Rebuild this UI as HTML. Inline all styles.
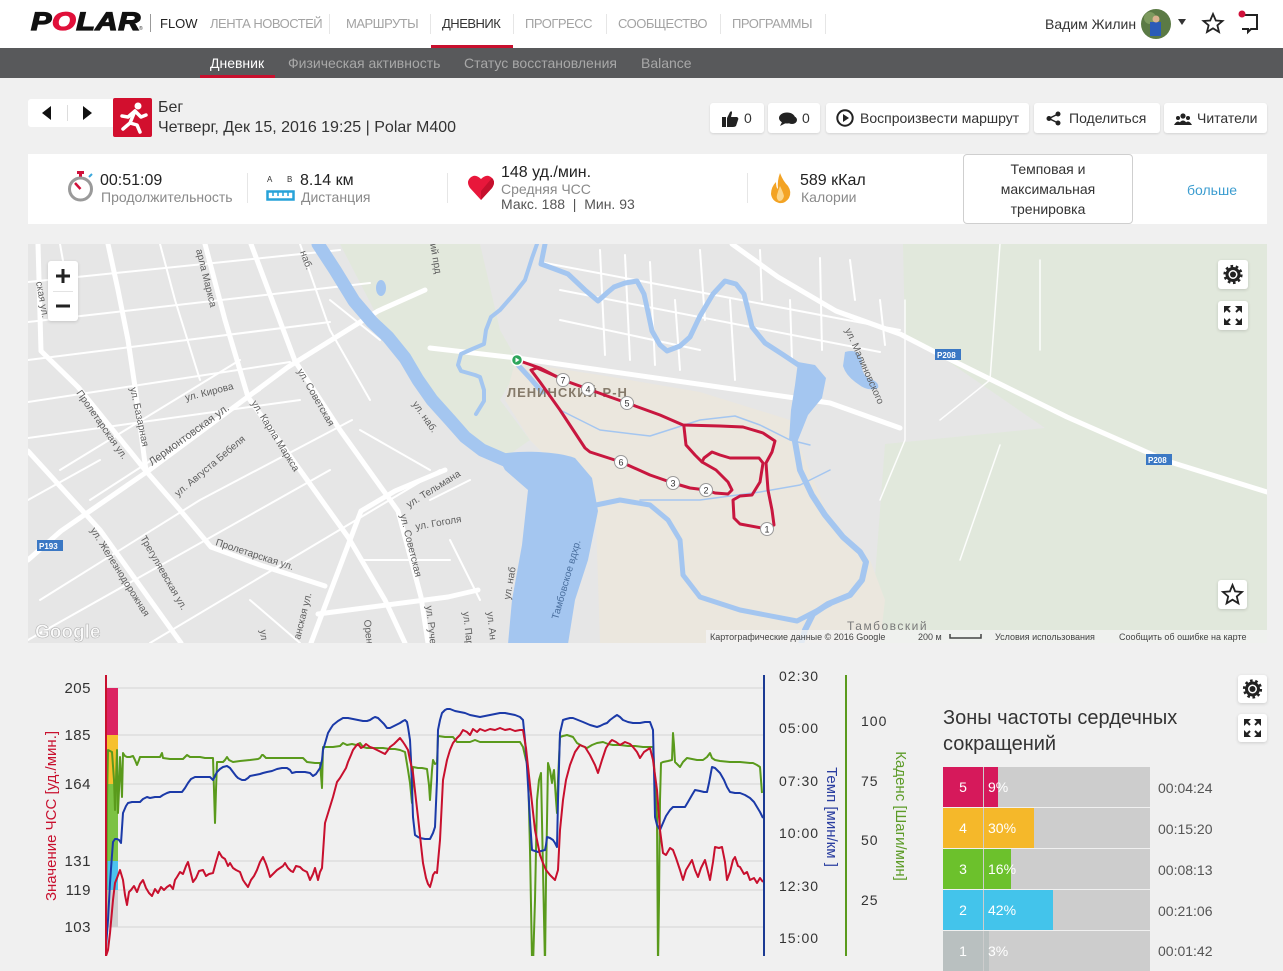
<!DOCTYPE html>
<html><head><meta charset="utf-8">
<style>
*{margin:0;padding:0;box-sizing:border-box}
body{width:1283px;height:956px;overflow:hidden;background:#f0f0f0;font-family:"Liberation Sans",Arial,sans-serif;position:relative;color:#333}
.a{position:absolute;white-space:nowrap;line-height:1}
.nav{font-size:13px;letter-spacing:-0.5px;color:#a3a3a3;top:17px}
.sep{position:absolute;width:1px;background:#e6e6e6}
.sub{font-size:14px;color:#a8a8a8;top:56px}
.btn{position:absolute;top:103px;height:30px;background:#fff;border-radius:3px;box-shadow:0 1px 2px rgba(0,0,0,.12)}
.bt{position:absolute;top:8px;font-size:14px;line-height:1;color:#333;white-space:nowrap}
.big{font-size:16px;color:#222}
.small{font-size:14px;color:#8a8a8a}
.zrow{position:absolute;left:943px;width:207px;height:40px;background:#cdcdcd}
.zl{position:absolute;left:0;top:0;width:40px;height:40px;color:#fff;font-size:14px;text-align:center;line-height:40px}
.zf{position:absolute;left:41px;top:0;height:40px}
.zp{position:absolute;left:45px;top:0;line-height:40px;font-size:14px;color:#fff}
.zt{position:absolute;left:1158px;font-size:14px;color:#555;line-height:1}
.ibox{position:absolute;background:#fff;border-radius:3px;box-shadow:0 1px 3px rgba(0,0,0,.15)}
</style></head><body>

<!-- top nav -->
<div class="a" style="left:0;top:0;width:1283px;height:48px;background:#fff"></div>
<div class="a" style="left:31px;top:10px;font-size:25px;font-weight:bold;font-style:italic;letter-spacing:0.5px;color:#111;-webkit-text-stroke:1.3px #111;transform:scaleX(1.22);transform-origin:0 0">P<span style="color:#e0103a;-webkit-text-stroke:1.3px #e0103a">O</span>LAR</div>
<div class="a" style="left:139px;top:27px;font-size:5px;color:#333">®</div>
<div class="sep" style="left:150px;top:14px;height:18px;background:#999"></div>
<div class="a" style="left:160px;top:17px;font-size:13px;color:#222">FLOW</div>
<div class="a nav" style="left:210px">ЛЕНТА НОВОСТЕЙ</div>
<div class="sep" style="left:329px;top:14px;height:20px"></div>
<div class="a nav" style="left:346px">МАРШРУТЫ</div>
<div class="sep" style="left:430px;top:14px;height:20px"></div>
<div class="a nav" style="left:442px;color:#333">ДНЕВНИК</div>
<div class="sep" style="left:513px;top:14px;height:20px"></div>
<div class="a nav" style="left:525px">ПРОГРЕСС</div>
<div class="sep" style="left:606px;top:14px;height:20px"></div>
<div class="a nav" style="left:618px">СООБЩЕСТВО</div>
<div class="sep" style="left:720px;top:14px;height:20px"></div>
<div class="a nav" style="left:732px">ПРОГРАММЫ</div>
<div class="sep" style="left:825px;top:14px;height:20px"></div>
<div class="a" style="left:431px;top:45px;width:82px;height:3px;background:#c8102e"></div>

<div class="a" style="left:1045px;top:17px;font-size:14px;color:#333">Вадим Жилин</div>
<svg class="a" style="left:1140px;top:8px" width="120" height="32" viewBox="1140 8 120 32">
  <circle cx="1156" cy="24" r="15" fill="#5b7a45"/>
  <circle cx="1150" cy="18" r="6" fill="#7d9a5e"/>
  <rect x="1150" y="22" width="11" height="14" fill="#2a5bb8"/>
  <circle cx="1156" cy="19" r="3.5" fill="#d9b28f"/>
  <polygon points="1178,19 1186,19 1182,25" fill="#333"/>
  <polygon points="1213,14 1215.8,20.5 1222.5,21 1217.4,25.3 1219,32 1213,28.3 1207,32 1208.6,25.3 1203.5,21 1210.2,20.5" fill="none" stroke="#222" stroke-width="1.8"/>
  <path d="M1242 15 H1257 V29 H1251 L1248 32 V29 H1242" fill="none" stroke="#222" stroke-width="2"/>
  <circle cx="1242" cy="14" r="3.5" fill="#d0103a"/>
</svg>

<!-- sub nav -->
<div class="a" style="left:0;top:48px;width:1283px;height:30px;background:#58595b"></div>
<div class="a sub" style="left:210px;color:#fff">Дневник</div>
<div class="a" style="left:200px;top:75px;width:75px;height:3px;background:#c8102e"></div>
<div class="a sub" style="left:288px">Физическая активность</div>
<div class="a sub" style="left:464px">Статус восстановления</div>
<div class="a sub" style="left:641px">Balance</div>

<!-- header row -->
<div class="a" style="left:28px;top:99px;width:91px;height:28px;background:#fff;border-radius:3px"></div>
<svg class="a" style="left:28px;top:99px" width="91" height="28">
  <polygon points="23,7 23,21 14,14" fill="#111"/>
  <polygon points="55,7 55,21 64,14" fill="#111"/>
  <line x1="39.5" y1="6" x2="39.5" y2="22" stroke="#ddd"/>
</svg>
<div class="a" style="left:113px;top:98px;width:39px;height:39px;background:#d20f2e;border-radius:2px"></div>
<svg class="a" style="left:113px;top:98px" width="39" height="39">
  <circle cx="25" cy="8" r="3.5" fill="#fff"/>
  <path d="M22 13 L15 19 M22 13 L17 25 L10 31 M17 25 L24 27 L27 34 M22 13 L28 19 L33 17 M15 19 L9 18" stroke="#fff" stroke-width="3.5" fill="none" stroke-linecap="round" stroke-linejoin="round"/>
</svg>
<div class="a" style="left:158px;top:100px;font-size:16px;color:#333">Бег</div>
<div class="a" style="left:158px;top:120px;font-size:16px;color:#333">Четверг, Дек 15, 2016 19:25 | Polar M400</div>

<div class="btn" style="left:710px;width:54px">
  <svg class="a" style="left:11px;top:7px" width="18" height="17"><path d="M1 7 H5 V17 H1Z M6 8 L9 2 Q11 0 11 3 L10 7 H16 Q18 8 17 10 L15 16 Q14 17 12 17 H6Z" fill="#222"/></svg>
  <div class="bt" style="left:34px">0</div></div>
<div class="btn" style="left:768px;width:52px">
  <svg class="a" style="left:10px;top:8px" width="20" height="15"><ellipse cx="9" cy="7" rx="8" ry="5.5" fill="#222"/><path d="M4 11 L2 15 L8 12Z" fill="#222"/><ellipse cx="14" cy="9" rx="5" ry="4" fill="#222"/></svg>
  <div class="bt" style="left:34px">0</div></div>
<div class="btn" style="left:826px;width:203px">
  <svg class="a" style="left:10px;top:6px" width="18" height="18"><circle cx="9" cy="9" r="7.7" fill="none" stroke="#222" stroke-width="2"/><polygon points="7,5 7,13 13,9" fill="#222"/></svg>
  <div class="bt" style="left:34px">Воспроизвести маршрут</div></div>
<div class="btn" style="left:1034px;width:126px">
  <svg class="a" style="left:12px;top:8px" width="16" height="15"><circle cx="12" cy="3" r="2.5" fill="#222"/><circle cx="3" cy="7.5" r="2.5" fill="#222"/><circle cx="12" cy="12" r="2.5" fill="#222"/><path d="M12 3 L3 7.5 L12 12" stroke="#222" stroke-width="1.5" fill="none"/></svg>
  <div class="bt" style="left:35px">Поделиться</div></div>
<div class="btn" style="left:1164px;width:103px">
  <svg class="a" style="left:10px;top:10px" width="18" height="12"><circle cx="9" cy="3" r="2.6" fill="#222"/><circle cx="4" cy="5" r="2" fill="#222"/><circle cx="14" cy="5" r="2" fill="#222"/><path d="M4 12 Q9 3 14 12Z M0 12 Q4 5 8 12Z M10 12 Q14 5 18 12Z" fill="#222"/></svg>
  <div class="bt" style="left:33px">Читатели</div></div>

<!-- stats -->
<div class="a" style="left:28px;top:154px;width:1239px;height:70px;background:#fff"></div>
<svg class="a" style="left:60px;top:168px" width="40" height="38">
  <rect x="17" y="3" width="7" height="3" fill="#d0103a"/>
  <rect x="19" y="5" width="3" height="4" fill="#d0103a"/>
  <circle cx="20.5" cy="21" r="11" fill="#fff" stroke="#9a9a9a" stroke-width="3"/>
  <line x1="20.5" y1="21" x2="15" y2="15" stroke="#d0103a" stroke-width="2.5"/>
  <line x1="29" y1="9" x2="32" y2="6" stroke="#3aa7dc" stroke-width="2"/>
</svg>
<div class="a big" style="left:100px;top:172.5px">00:51:09</div>
<div class="a small" style="left:101px;top:189.5px">Продолжительность</div>
<div class="sep" style="left:247px;top:173px;height:30px"></div>
<div class="a" style="left:267px;top:176px;font-size:8px;color:#333">A</div>
<div class="a" style="left:287px;top:176px;font-size:8px;color:#333">B</div>
<svg class="a" style="left:266px;top:190px" width="30" height="12"><rect x="1.5" y="1.5" width="26" height="8" fill="none" stroke="#27a2d8" stroke-width="2.5"/><path d="M7 2V6 M12 2V6 M17 2V6 M22 2V6" stroke="#27a2d8" stroke-width="1.5"/></svg>
<div class="a big" style="left:300px;top:172.5px">8.14 км</div>
<div class="a small" style="left:301px;top:189.5px">Дистанция</div>
<div class="sep" style="left:447px;top:173px;height:30px"></div>
<svg class="a" style="left:467px;top:173px" width="28" height="28"><path d="M14 27 L3 15 Q-1 9 3 5 Q8 0 14 6 Q20 0 25 5 Q29 9 25 15Z" fill="#e8173b"/><path d="M14 27 L25 15 Q29 9 25 5 L14 18Z" fill="#c5102d"/></svg>
<div class="a big" style="left:501px;top:164.5px">148 уд./мин.</div>
<div class="a small" style="left:501px;top:181.5px">Средняя ЧСС</div>
<div class="a small" style="left:501px;top:196.5px;color:#555">Макс. 188 &nbsp;|&nbsp; Мин. 93</div>
<div class="sep" style="left:747px;top:173px;height:30px"></div>
<svg class="a" style="left:769px;top:172px" width="24" height="32"><path d="M11 1 Q14 9 19 14 Q23 20 20 26 Q16 32 10 31 Q3 29 2 22 Q2 15 7 10 Q7 16 9 17 Q8 9 11 1Z" fill="#f3a324"/><path d="M11 14 Q14 20 15 24 Q14 29 10 29 Q7 27 8 23 Q9 19 11 14Z" fill="#fbd58a"/></svg>
<div class="a big" style="left:800px;top:172.5px">589 кКал</div>
<div class="a small" style="left:801px;top:189.5px">Калории</div>
<div class="a" style="left:963px;top:154px;width:170px;height:70px;border:1px solid #cfcfcf;border-radius:4px;text-align:center;font-size:14px;line-height:20px;padding-top:4px;color:#333;white-space:normal">Темповая и<br>максимальная<br>тренировка</div>
<div class="a" style="left:1187px;top:182.5px;font-size:14px;color:#3c9dd0">больше</div>

<!-- map -->
<svg class="a" style="left:28px;top:244px" width="1239" height="399" viewBox="28 244 1239 399" font-family="Liberation Sans, Arial, sans-serif">
  <rect x="28" y="244" width="1239" height="399" fill="#e6e6e6"/>
  <polygon points="903,244 1267,244 1267,643 870,643 885,444 1045,428 933,351 905,339" fill="#e1e8dc"/>
  <polygon points="340,244 480,244 500,330 520,365 500,400 530,440 500,461 465,437 430,401 388,337" fill="#e2e8dc"/>
  <polygon points="515,362 600,375 700,392 790,420 805,460 830,520 870,560 885,600 880,643 600,643 596,520 560,470 530,440 505,400" fill="#ebe7de"/>
  <!-- city streets left -->
  <g stroke="#fff" fill="none" stroke-linecap="round" stroke-linejoin="round">
    <g stroke-width="2">
      <path d="M28 282 L340 250 M28 322 L370 283 M28 360 L330 322 M28 402 L290 362 M28 438 L300 400 M40 600 L200 500 L352 420 M28 640 L330 470 M150 643 L440 470 M60 470 L240 360 M90 500 L260 390 M28 500 L100 460"/>
      <path d="M160 244 L175 300 L200 380 M60 244 L70 300 M300 244 L330 330 L370 400 M360 430 L430 470 M250 600 L300 643 M330 300 L380 340 M360 560 L450 560 M430 500 L470 480 M450 540 L480 600"/>
      <path d="M540 262 L900 330 M560 290 L880 352 M600 250 L605 355 M625 255 L630 360 M650 262 L655 365 M675 300 L680 370 M700 250 L705 320 M730 300 L735 380 M760 250 L762 300 M790 300 L792 360 M820 258 L822 350 M850 260 L855 300 M880 300 L885 345 M560 320 L700 350"/>
    </g>
    <g stroke-width="5">
      <polyline points="108,244 118,290 128,340 135,387 146,471"/>
      <polyline points="38,244 41,351 78,387 146,471 180,510 211,547 260,565 325,586"/>
      <polyline points="205,244 225,320 248,397 300,470 348,537 385,600 405,643"/>
      <polyline points="251,244 295,361 340,430 398,511 421,597 428,643"/>
      <polyline points="28,560 61,531 148,471 288,367 378,311 425,290"/>
      <polyline points="28,451 100,530 181,643"/>
      <polyline points="311,643 361,511 395,491 445,470"/>
      <polyline points="318,614 448,597 478,590"/>
      <polyline points="732,244 778,277 836,311 900,334 933,351 1067,417 1167,461 1267,492"/>
      <polyline points="430,348 517,358 830,403 900,428"/>
    </g>
    <g stroke-width="1.5" opacity="0.9">
      <path d="M1000 244 L990 380 L940 420 M960 560 L1000 445 M905 300 L905 440 L880 500 M1040 260 L1040 350"/>
    </g>
  </g>
  <!-- water -->
  <g fill="none" stroke="#a4c6f0" stroke-linecap="round" stroke-linejoin="round">
    <polyline stroke-width="13" points="318,244 335,270 354,301 372,322 388,337 405,358 418,380 432,400 450,420 465,437 482,450 505,460"/>
    <polyline stroke-width="5" points="545,244 541,264 552,268 568,274 585,290 598,301 608,292 614,287 625,283 637,281 644,294 648,312 652,331 660,345 667,351 680,346 690,337 700,316 713,294 725,281 736,284 744,294 748,310 752,327 765,343 782,354 800,366"/>
    <polyline stroke-width="6" points="793,430 800,470 812,495 825,515 843,537 860,552 866,562 862,580 850,595 828,604 813,614 805,630 801,644"/>
    <polyline stroke-width="4" points="537,244 532,258 525,280 514,294 500,310 491,317 486,330 484,344 470,350 461,354 458,365 461,371 475,375 480,377 484,390 484,401 476,414"/>
    <polyline stroke-width="5" points="518,365 530,378 542,392"/>
    <polyline stroke-width="5" points="596,505 620,500 650,505 668,520 680,540 683,575 700,597 740,610 797,621 830,604"/>
    <polyline stroke-width="1.5" points="560,410 600,430 650,436 700,420 735,416 760,425 790,440 810,445"/>
    <polyline stroke-width="1.5" points="640,500 700,500 760,492 800,485 830,470"/>
  </g>
  <g fill="#a4c6f0">
    <path d="M497 455 C520 449 560 452 575 458 L592 478 L598 511 L588 560 L575 600 L568 644 L508 644 L512 600 L522 545 L528 490 L505 470 Z"/>
    <path d="M798 362 L815 365 L826 378 L822 398 L808 415 L798 440 L789 440 L791 410 L795 385Z"/>
    <path d="M845 352 Q858 348 862 360 Q860 372 868 378 Q880 382 878 388 Q868 392 858 384 Q846 376 843 366Z"/>
    <ellipse cx="381" cy="288" rx="5" ry="8"/>
  </g>
  <!-- badges -->
  <g font-size="8" font-weight="bold" fill="#fff">
    <rect x="935" y="349" width="26" height="11" fill="#3b78c4"/><text x="937" y="358">P208</text>
    <rect x="1146" y="454" width="26" height="11" fill="#3b78c4"/><text x="1148" y="463">P208</text>
    <rect x="37" y="540" width="26" height="11" fill="#3b78c4"/><text x="39" y="549">P193</text>
  </g>
  <!-- street labels -->
  <g font-size="10" fill="#5e5e5e">
    <text transform="translate(186,401) rotate(-14)">ул. Кирова</text>
    <text transform="translate(152,466) rotate(-36)" font-size="11">Лермонтовская ул.</text>
    <text transform="translate(251,403) rotate(58)">ул. Карла Маркса</text>
    <text transform="translate(297,371) rotate(60)">ул. Советская</text>
    <text transform="translate(76,393) rotate(55)">Пролетарская ул.</text>
    <text transform="translate(130,388) rotate(78)">ул. Базарная</text>
    <text transform="translate(178,497) rotate(-40)">ул. Августа Бебеля</text>
    <text transform="translate(215,545) rotate(18)">Пролетарская ул.</text>
    <text transform="translate(90,530) rotate(58)">ул. Железнодорожная</text>
    <text transform="translate(140,538) rotate(60)">Трегуляевская ул.</text>
    <text transform="translate(409,508) rotate(-32)">ул. Тельмана</text>
    <text transform="translate(416,530) rotate(-10)">ул. Гоголя</text>
    <text transform="translate(400,515) rotate(76)">ул. Советская</text>
    <text transform="translate(412,404) rotate(55)">ул. наб.</text>
    <text transform="translate(196,250) rotate(76)">арла Маркса</text>
    <text transform="translate(36,282) rotate(80)">ская ул.</text>
    <text transform="translate(300,252) rotate(70)">наб.</text>
    <text transform="translate(430,244) rotate(80)">ий прд</text>
    <text transform="translate(845,330) rotate(66)">ул. Малиновского</text>
    <text transform="translate(510,600) rotate(-80)">ул. наб</text>
    <text transform="translate(300,640) rotate(-76)">анская ул.</text>
    <text transform="translate(364,620) rotate(84)">Орен</text>
    <text transform="translate(426,606) rotate(84)">ул. Руче</text>
    <text transform="translate(463,612) rotate(84)">ул. Пар</text>
    <text transform="translate(487,612) rotate(84)">ул. Ан</text>
    <text transform="translate(260,630) rotate(84)">ул</text>
  </g>
  <text transform="translate(558,620) rotate(-74)" font-size="10" fill="#4a6f9e">Тамбовское вдхр.</text>
  <text x="507" y="397" font-size="13" font-weight="bold" letter-spacing="1" fill="#857a6a">ЛЕНИНСКИЙ Р-Н</text>
  <text x="847" y="630" font-size="12" letter-spacing="1.5" fill="#7a7a7a">Тамбовский</text>
  <!-- route -->
  <g fill="none" stroke="#c8173f" stroke-width="3" stroke-linejoin="round" stroke-linecap="round">
    <polyline points="517,360 540,368 563,380 588,389 610,397 627,403 660,415 683,425 720,426 743,427 763,433 775,441 772,452 766,463 768,490 772,510 774,525 767,529"/>
    <polyline points="767,529 740,524 734,518 733,500 740,496 752,495 760,482 763,463 759,458 730,458 720,455 712,452 704,458 702,462 716,470 728,482 732,490 728,494 715,493 706,490 690,488 673,483 650,475 621,462 590,452 585,448 560,410 540,382 531,370 537,368 560,378 563,380"/>
    <polyline points="684,427 686,445 695,455 702,462"/>
  </g>
  <g font-size="9" fill="#333" text-anchor="middle">
    <g fill="#fff" stroke="#9a9a9a" stroke-width="1">
      <circle cx="563" cy="380" r="6.5"/><circle cx="588" cy="389" r="6.5"/><circle cx="627" cy="403" r="6.5"/>
      <circle cx="621" cy="462" r="6.5"/><circle cx="673" cy="483" r="6.5"/><circle cx="706" cy="490" r="6.5"/><circle cx="767" cy="529" r="6.5"/>
    </g>
    <text x="563" y="383.5">7</text><text x="588" y="392.5">4</text><text x="627" y="406.5">5</text>
    <text x="621" y="465.5">6</text><text x="673" y="486.5">3</text><text x="706" y="493.5">2</text><text x="767" y="532.5">1</text>
  </g>
  <circle cx="517" cy="360" r="5.5" fill="#2ca55a" stroke="#fff" stroke-width="1.5"/>
  <polygon points="515.5,357.5 515.5,362.5 519.5,360" fill="#fff"/>
  <!-- google -->
  <text x="35" y="638" font-size="19" font-weight="bold" fill="#fafafa" stroke="#b5b5b5" stroke-width="0.6">Google</text>
  <rect x="706" y="630" width="561" height="13" fill="#f2f2f2" opacity="0.8"/>
  <g font-size="9" fill="#444">
    <text x="710" y="640">Картографические данные © 2016 Google</text>
    <text x="918" y="640">200 м</text>
    <text x="995" y="640">Условия использования</text>
    <text x="1119" y="640">Сообщить об ошибке на карте</text>
  </g>
  <path d="M950 634 V638 H981 V634" fill="none" stroke="#444" stroke-width="1.5"/>
</svg>
<!-- map controls -->
<div class="ibox" style="left:48px;top:261px;width:30px;height:60px"></div>
<div class="a" style="left:53px;top:291px;width:20px;height:1px;background:#e3e3e3"></div>
<svg class="a" style="left:48px;top:261px" width="30" height="60"><path d="M15 8 V22 M8 15 H22" stroke="#222" stroke-width="3"/><path d="M8 45 H22" stroke="#222" stroke-width="3"/></svg>

<div class="ibox" style="left:1218px;top:260px;width:30px;height:29px"></div>
<svg class="a" style="left:1218px;top:260px" width="30" height="29"><circle cx="15" cy="14.5" r="6" fill="none" stroke="#222" stroke-width="3"/><circle cx="15" cy="14.5" r="8.3" fill="none" stroke="#222" stroke-width="2.6" stroke-dasharray="2.6 2.6"/><circle cx="15" cy="14.5" r="3" fill="#222"/></svg>
<div class="ibox" style="left:1218px;top:301px;width:30px;height:29px"></div>
<svg class="a" style="left:1218px;top:301px" width="30" height="29"><g fill="#222"><polygon points="6,5 13,5 6,12"/><polygon points="24,5 17,5 24,12"/><polygon points="6,24 13,24 6,17"/><polygon points="24,24 17,24 24,17"/></g><path d="M7 6 L12 11 M23 6 L18 11 M7 23 L12 18 M23 23 L18 18" stroke="#222" stroke-width="2"/></svg>
<div class="ibox" style="left:1218px;top:580px;width:29px;height:29px"></div>
<svg class="a" style="left:1218px;top:580px" width="29" height="29"><polygon points="14.5,5 17.1,11.4 24,12 18.8,16.5 20.4,23.3 14.5,19.7 8.6,23.3 10.2,16.5 5,12 11.9,11.4" fill="none" stroke="#222" stroke-width="1.8"/></svg>

<!-- chart -->
<svg class="a" style="left:0;top:650px" width="940" height="306" viewBox="0 650 940 306" font-family="Liberation Sans, Arial, sans-serif">
  <g stroke="#d3d3d3" stroke-width="1">
    <line x1="106" y1="688" x2="763" y2="688"/><line x1="106" y1="735" x2="763" y2="735"/>
    <line x1="106" y1="784" x2="763" y2="784"/><line x1="106" y1="861" x2="763" y2="861"/>
    <line x1="106" y1="890" x2="763" y2="890"/><line x1="106" y1="927" x2="763" y2="927"/>
  </g>
  <rect x="106" y="688" width="12" height="47" fill="#dc2362"/>
  <rect x="106" y="735" width="12" height="49" fill="#f6c02e"/>
  <rect x="106" y="784" width="12" height="77" fill="#7cc243"/>
  <rect x="106" y="861" width="12" height="29" fill="#4cc3ee"/>
  <rect x="106" y="890" width="12" height="37" fill="#d0d0d0"/>
  <g font-size="15" fill="#333" text-anchor="end" letter-spacing="0.5">
    <text x="91" y="693">205</text><text x="91" y="740">185</text><text x="91" y="789">164</text>
    <text x="91" y="866">131</text><text x="91" y="895">119</text><text x="91" y="932">103</text><text x="91" y="967">90</text>
  </g>
  <g font-size="14" fill="#333" letter-spacing="1">
    <text x="779" y="681">02:30</text><text x="779" y="733">05:00</text><text x="779" y="786">07:30</text>
    <text x="779" y="838">10:00</text><text x="779" y="891">12:30</text><text x="779" y="943">15:00</text>
    <text x="861" y="726">100</text><text x="861" y="786">75</text><text x="861" y="845">50</text><text x="861" y="905">25</text><text x="861" y="966">0</text>
  </g>
  <text transform="translate(56,816) rotate(-90)" text-anchor="middle" font-size="15" fill="#c8102e">Значение ЧСС [уд./мин.]</text>
  <text transform="translate(827,817) rotate(90)" text-anchor="middle" font-size="15" fill="#2a3ea0">Темп [мин/км ]</text>
  <text transform="translate(896,816) rotate(90)" text-anchor="middle" font-size="15" fill="#5d9b28">Каденс [Шаги/мин]</text>
  <g fill="none" stroke-width="2" stroke-linejoin="round">
    <polyline stroke="#5a9a1c" points="106,937 107,800 108,750 110,751 112,752 114,780 115,810 116,780 117,750 118,813 119,790 120,757 121,775 122,797 123,753 125,756 127,757 130,757 133,756 135,760 137,765 139,760 140,757 150,757 160,757 162,753 163,758 170,759 173,759 178,759 183,759 185,757 187,755 190,757 195,757 200,757 205,758 210,758 213,758 214,790 215,823 216,790 217,762 220,762 223,762 225,760 227,757 229,760 233,762 240,761 250,760 258,759 260,758 262,755 263,755 266,758 270,758 280,758 290,758 300,758 303,758 307,762 315,763 320,763 321,775 322,788 323,747 328,747 333,747 340,746 343,743 347,745 352,744 356,745 360,743 363,747 367,748 375,748 383,748 390,749 395,749 400,750 405,752 408,770 410,783 412,803 413,767 418,768 422,768 427,769 429,785 430,800 432,770 433,760 435,764 437,763 438,736 445,737 453,737 457,742 465,742 470,742 475,740 480,742 487,742 495,742 505,742 512,742 520,742 523,747 526,760 528,767 530,850 532,960 533,966 535,900 537,800 539,780 541,773 543,870 545,966 546,880 548,763 550,770 552,783 553,775 554,770 556,800 557,813 558,780 560,737 563,736 567,735 570,736 573,737 575,740 577,743 582,746 587,748 592,745 597,743 603,742 608,744 613,745 620,745 628,746 635,746 643,747 650,747 653,747 655,780 657,817 658,966 659,900 660,800 661,763 663,762 668,761 672,760 673,733 674,745 675,762 678,765 680,767 683,762 687,758 692,759 697,760 703,760 707,757 710,753 712,758 715,760 720,761 730,762 740,762 750,763 753,763 757,765 760,767 762,793"/>
    <polyline stroke="#1b3aa8" points="106,947 108,920 110,883 112,855 113,842 115,839 117,839 119,840 121,843 123,813 126,806 128,803 132,802 136,802 140,802 143,799 147,797 150,798 155,797 160,797 163,795 167,793 170,792 175,792 182,792 185,788 188,783 191,779 195,777 200,777 205,777 210,777 213,780 215,776 217,772 220,769 223,767 227,766 230,768 233,772 236,776 238,778 242,780 245,780 248,778 250,776 255,775 260,774 263,773 267,772 272,771 277,769 282,768 287,768 290,770 292,773 296,772 300,772 305,772 310,773 313,776 316,774 320,768 322,760 323,750 326,740 328,733 331,728 333,725 338,721 343,718 348,718 353,719 358,720 363,721 367,721 370,720 373,718 375,717 378,718 380,720 384,724 387,728 390,728 392,727 396,725 400,723 403,721 405,720 407,722 408,727 410,740 411,760 413,817 415,835 418,837 420,838 425,839 430,839 433,833 435,827 437,780 438,730 440,720 442,713 445,710 447,709 450,709 455,711 460,712 465,713 470,715 475,716 480,717 485,716 490,715 495,714 500,713 505,713 510,714 515,715 520,717 523,720 525,740 527,767 530,820 532,850 535,851 538,852 541,851 545,850 546,845 547,837 550,838 553,840 555,843 557,847 558,800 560,733 563,720 566,719 570,718 573,718 578,720 583,722 590,725 597,727 600,726 604,724 607,723 610,720 614,717 617,715 620,717 623,720 628,722 633,723 640,723 645,722 650,722 653,730 654,770 655,817 657,825 660,830 663,823 666,816 670,810 673,807 678,807 685,807 688,802 692,795 695,790 700,791 704,792 707,792 709,783 712,767 715,768 720,773 724,780 727,787 730,792 735,793 740,793 745,795 750,798 754,802 757,807 760,812 763,818"/>
    <polyline stroke="#c8102e" points="106,956 108,950 110,933 113,900 115,883 117,878 120,870 123,880 125,895 127,905 129,892 131,890 134,886 137,892 140,884 143,880 146,888 149,893 152,896 155,889 158,893 161,887 164,890 167,887 170,885 173,889 175,880 177,877 180,872 183,874 186,866 188,862 190,870 193,882 196,878 199,871 203,870 206,876 209,874 213,873 216,862 219,852 222,857 225,859 228,866 230,863 233,868 236,870 240,872 243,880 245,883 248,887 251,880 254,876 257,870 260,862 263,857 266,864 268,870 270,877 273,874 277,870 280,868 283,866 285,863 288,868 291,871 293,872 296,866 300,867 303,870 307,872 310,880 313,874 315,868 318,880 320,872 322,868 325,823 329,810 333,797 337,782 340,778 343,773 346,768 348,762 351,755 353,750 356,746 358,744 361,748 363,747 366,744 370,747 373,748 377,750 381,752 385,754 388,750 390,747 394,744 397,741 400,738 403,742 405,745 408,750 410,760 413,773 416,800 418,817 421,845 423,863 426,878 428,884 430,887 432,880 433,875 435,872 437,873 440,840 443,780 447,760 450,750 453,743 457,738 460,735 463,730 467,732 470,735 473,729 477,732 480,729 485,731 490,729 495,730 500,728 505,730 510,729 515,731 520,730 523,730 526,748 530,785 535,830 540,855 543,863 546,870 550,875 555,880 558,870 560,830 563,800 566,780 570,765 575,752 580,745 585,747 590,755 595,765 598,773 602,760 606,748 610,742 612,740 616,742 620,745 625,742 630,744 633,747 637,752 640,758 644,752 647,750 650,748 653,760 657,790 660,830 663,853 666,855 670,848 673,850 676,858 680,870 683,880 686,870 689,865 692,860 695,870 698,877 701,868 705,860 708,872 710,880 713,862 715,847 719,848 722,847 725,862 727,880 730,872 733,860 735,857 738,866 740,867 744,874 747,872 750,880 754,878 757,883 760,878 763,882"/>
  </g>
  <line x1="106" y1="675" x2="106" y2="956" stroke="#c8102e" stroke-width="2"/>
  <line x1="764" y1="675" x2="764" y2="956" stroke="#1b3a93" stroke-width="2"/>
  <line x1="846" y1="675" x2="846" y2="956" stroke="#5a9a1c" stroke-width="2"/>
</svg>

<!-- zones -->
<div class="a" style="left:943px;top:705px;font-size:20px;line-height:26px;color:#333;white-space:normal;width:260px">Зоны частоты сердечных<br>сокращений</div>
<div class="zrow" style="top:767px"><div class="zl" style="background:#d6195b">5</div><div class="zf" style="width:14px;background:#d6195b"></div><div class="zp">9%</div></div>
<div class="zrow" style="top:808px"><div class="zl" style="background:#f5b82a">4</div><div class="zf" style="width:50px;background:#f5b82a"></div><div class="zp">30%</div></div>
<div class="zrow" style="top:849px"><div class="zl" style="background:#6cc12c">3</div><div class="zf" style="width:27px;background:#6cc12c"></div><div class="zp">16%</div></div>
<div class="zrow" style="top:890px"><div class="zl" style="background:#43c4eb">2</div><div class="zf" style="width:69px;background:#43c4eb"></div><div class="zp">42%</div></div>
<div class="zrow" style="top:931px"><div class="zl" style="background:#b9c0c0">1</div><div class="zf" style="width:5px;background:#b9c0c0"></div><div class="zp">3%</div></div>
<div class="zt" style="top:781px">00:04:24</div>
<div class="zt" style="top:822px">00:15:20</div>
<div class="zt" style="top:863px">00:08:13</div>
<div class="zt" style="top:904px">00:21:06</div>
<div class="zt" style="top:944px">00:01:42</div>

<div class="ibox" style="left:1238px;top:675px;width:29px;height:28px"></div>
<svg class="a" style="left:1238px;top:675px" width="29" height="28"><circle cx="14.5" cy="14" r="6" fill="none" stroke="#222" stroke-width="3"/><circle cx="14.5" cy="14" r="8.3" fill="none" stroke="#222" stroke-width="2.6" stroke-dasharray="2.6 2.6"/><circle cx="14.5" cy="14" r="3" fill="#222"/></svg>
<div class="ibox" style="left:1238px;top:714px;width:29px;height:28px"></div>
<svg class="a" style="left:1238px;top:714px" width="29" height="28"><g fill="#222"><polygon points="6,5 13,5 6,12"/><polygon points="23,5 16,5 23,12"/><polygon points="6,23 13,23 6,16"/><polygon points="23,23 16,23 23,16"/></g><path d="M7 6 L12 11 M22 6 L17 11 M7 22 L12 17 M22 22 L17 17" stroke="#222" stroke-width="2"/></svg>

</body></html>
